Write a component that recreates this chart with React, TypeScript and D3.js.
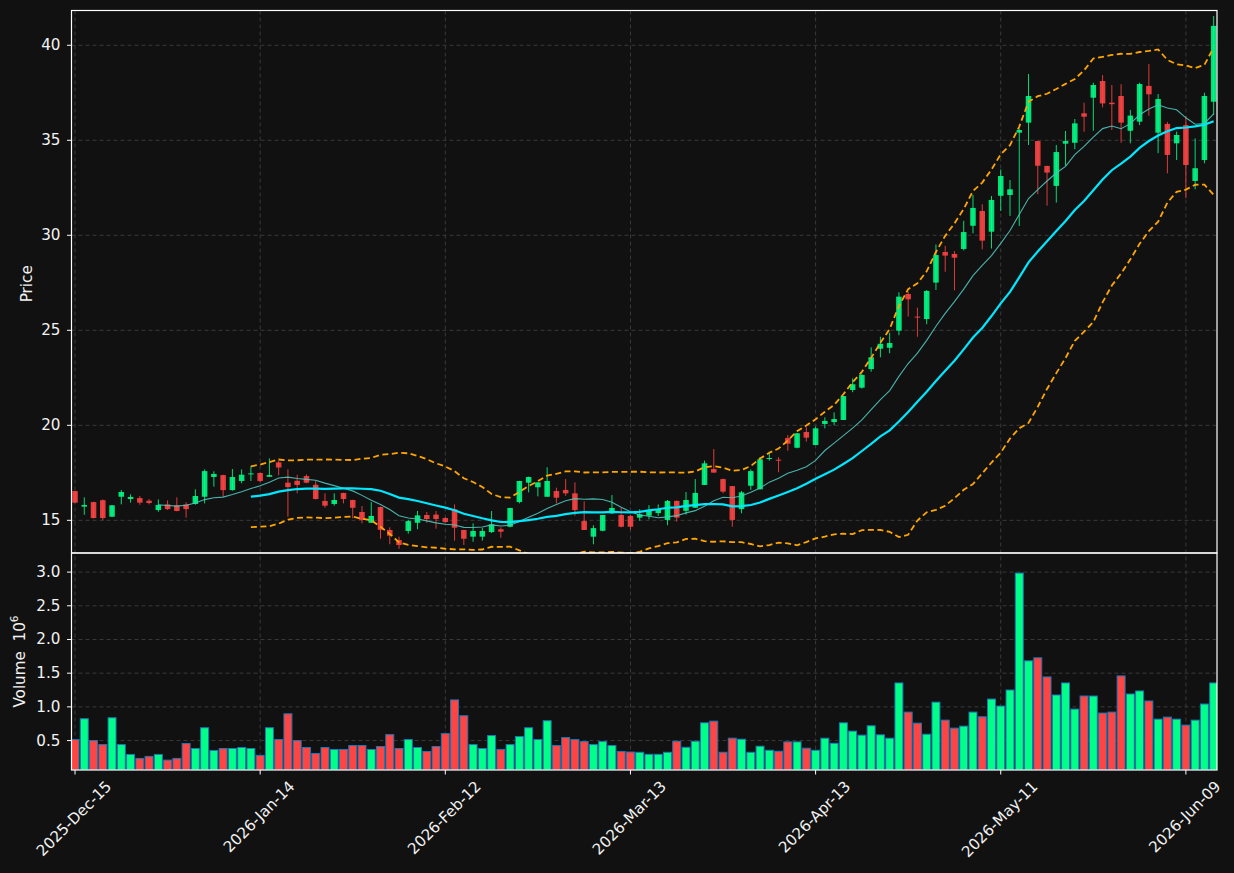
import React, { useEffect, useRef } from "react";
import * as d3 from "d3";

const W = 1234;
const H = 873;

// daily OHLC (one entry per trading day)
const opens = [
  16.54, 15.72, 15.96, 16.06, 15.19, 16.24, 16.12, 16.17, 16.03, 15.54,
  15.84, 15.79, 15.84, 15.86, 16.24, 17.28, 17.38, 16.59, 17.07, 17.43,
  17.49, 17.29, 18.05, 16.98, 17.08, 17.33, 16.87, 16.02, 15.86, 16.44,
  16.07, 15.44, 14.87, 15.7, 14.49, 13.96, 14.44, 14.87, 15.28, 15.3,
  15.12, 15.58, 14.49, 14.14, 14.14, 14.38, 14.53, 14.66, 15.96, 16.98,
  16.74, 16.24, 16.54, 16.6, 16.42, 14.96, 14.14, 14.45, 15.37, 15.28,
  15.23, 15.14, 15.24, 15.38, 15.02, 16.02, 15.5, 15.66, 16.86, 17.7,
  17.17, 16.8, 15.59, 16.82, 16.63, 18.25, 18.19, 19.33, 18.82, 19.65,
  18.96, 20.07, 20.17, 20.28, 21.86, 21.98, 22.96, 24.03, 24.08, 24.98,
  26.91, 25.72, 25.59, 27.51, 29.12, 29.02, 29.28, 30.5, 31.28, 30.19,
  32.08, 32.12, 35.4, 35.93, 34.96, 33.65, 32.6, 34.82, 34.87, 36.42,
  37.24, 38.12, 36.98, 37.33, 35.5, 35.98, 37.86, 35.4, 35.86, 34.84,
  35.8, 32.86, 33.96, 37.03,
];
const highs = [
  16.56, 16.21, 15.98, 16.1, 15.8, 16.6, 16.37, 16.28, 16.12, 16.1,
  16.05, 16.21, 15.95, 16.63, 17.68, 17.58, 17.4, 17.7, 17.68, 17.86,
  17.52, 18.26, 18.14, 17.68, 17.4, 17.42, 17.08, 16.42, 16.42, 16.45,
  16.08, 15.75, 15.96, 15.72, 14.63, 14.14, 15.02, 15.49, 15.44, 15.49,
  15.16, 15.84, 14.5, 14.84, 14.6, 15.49, 14.63, 15.66, 17.08, 17.3,
  17.0, 17.79, 16.72, 17.17, 17.0, 16.0, 14.74, 15.28, 16.33, 15.66,
  15.28, 15.58, 15.8, 15.84, 16.07, 16.05, 16.49, 17.17, 18.14, 18.75,
  17.2, 16.8, 16.54, 17.68, 18.32, 18.61, 18.32, 19.49, 19.6, 19.9,
  19.93, 20.42, 20.68, 21.54, 22.47, 22.7, 24.1, 24.66, 24.87, 27.0,
  27.03, 26.19, 27.12, 29.52, 29.45, 29.17, 30.76, 32.12, 31.63, 32.07,
  33.46, 32.91, 35.62, 38.49, 34.97, 33.66, 34.75, 35.49, 36.12, 36.98,
  38.03, 38.43, 37.91, 37.95, 36.6, 38.03, 39.01, 37.43, 35.97, 35.46,
  36.28, 35.1, 37.5, 41.54,
];
const lows = [
  15.9, 15.29, 15.1, 15.0, 15.18, 15.84, 15.93, 15.82, 15.84, 15.45,
  15.54, 15.47, 15.14, 15.82, 15.89, 16.77, 16.24, 16.56, 16.95, 17.07,
  17.02, 17.29, 17.37, 15.19, 16.42, 16.95, 16.1, 15.66, 15.77, 15.89,
  15.1, 14.84, 14.87, 14.03, 13.74, 13.5, 14.3, 14.53, 14.87, 14.56,
  14.87, 13.93, 13.7, 13.87, 13.93, 14.33, 14.08, 14.63, 15.89, 16.47,
  16.26, 16.24, 15.89, 16.29, 15.24, 14.49, 13.74, 14.42, 15.33, 14.63,
  14.5, 14.98, 15.05, 15.23, 14.74, 14.93, 15.3, 15.66, 16.86, 17.5,
  16.42, 14.66, 15.37, 16.6, 16.63, 18.14, 17.53, 18.66, 18.79, 19.14,
  18.96, 19.84, 20.0, 20.28, 21.74, 21.93, 22.82, 23.58, 23.79, 24.74,
  25.72, 24.66, 25.32, 27.12, 28.08, 27.1, 29.2, 30.1, 29.26, 29.3,
  31.28, 31.02, 30.49, 34.75, 32.16, 31.56, 31.72, 33.65, 34.53, 35.45,
  35.5, 36.73, 35.54, 34.87, 34.84, 35.8, 36.29, 34.32, 33.26, 33.96,
  31.95, 32.42, 33.79, 36.33,
];
const closes = [
  15.93, 15.81, 15.12, 15.12, 15.79, 16.49, 16.23, 15.93, 15.91, 15.81,
  15.59, 15.49, 15.59, 16.28, 17.59, 17.44, 16.59, 17.28, 17.4, 17.47,
  17.07, 17.38, 17.78, 16.75, 16.86, 16.98, 16.12, 15.77, 16.07, 16.12,
  15.66, 15.02, 15.23, 14.5, 14.19, 13.7, 14.96, 15.26, 15.07, 15.07,
  14.91, 14.61, 14.03, 14.44, 14.44, 14.79, 14.4, 15.65, 17.07, 17.28,
  17.0, 17.07, 16.19, 16.42, 15.54, 14.49, 14.59, 15.28, 15.65, 14.66,
  14.66, 15.32, 15.54, 15.59, 16.02, 15.14, 16.07, 16.44, 18.0, 17.51,
  16.51, 15.02, 16.47, 17.59, 18.21, 18.28, 18.15, 19.03, 19.58, 19.35,
  19.84, 20.23, 20.33, 21.54, 22.16, 22.65, 23.58, 24.29, 24.33, 26.77,
  26.63, 25.68, 27.07, 28.96, 28.93, 28.82, 30.17, 31.44, 29.72, 31.86,
  33.12, 32.42, 35.54, 37.33, 33.66, 33.3, 34.38, 34.96, 35.89, 36.24,
  37.91, 36.94, 36.9, 35.93, 36.3, 37.96, 37.42, 37.17, 34.23, 35.28,
  33.7, 33.53, 37.33, 41.02,
];
// volume in millions
const volumes = [
  0.515, 0.824, 0.5, 0.44, 0.838, 0.44, 0.294, 0.235, 0.265, 0.294,
  0.21, 0.235, 0.456, 0.382, 0.69, 0.353, 0.382, 0.382, 0.397, 0.382,
  0.28, 0.69, 0.515, 0.897, 0.5, 0.397, 0.309, 0.397, 0.368, 0.368,
  0.426, 0.426, 0.368, 0.412, 0.588, 0.382, 0.515, 0.397, 0.338, 0.412,
  0.603, 1.103, 0.868, 0.44, 0.382, 0.574, 0.368, 0.44, 0.559, 0.69,
  0.515, 0.794, 0.426, 0.544, 0.515, 0.485, 0.44, 0.485, 0.426, 0.338,
  0.33, 0.326, 0.296, 0.296, 0.326, 0.49, 0.4, 0.49, 0.763, 0.788,
  0.326, 0.535, 0.52, 0.326, 0.416, 0.356, 0.341, 0.48, 0.48, 0.386,
  0.356, 0.535, 0.46, 0.763, 0.64, 0.58, 0.719, 0.585, 0.535, 1.355,
  0.922, 0.758, 0.594, 1.07, 0.803, 0.684, 0.714, 0.922, 0.853, 1.116,
  1.012, 1.25, 2.985, 1.683, 1.728, 1.444, 1.176, 1.355, 0.967, 1.161,
  1.161, 0.908, 0.922, 1.459, 1.191, 1.236, 1.087, 0.818, 0.848, 0.818,
  0.729, 0.803, 1.042, 1.355,
];

const tickIdx = [0, 20, 40, 60, 80, 100, 120];
const tickLabels = [
  "2025-Dec-15", "2026-Jan-14", "2026-Feb-12", "2026-Mar-13",
  "2026-Apr-13", "2026-May-11", "2026-Jun-09",
];
const priceTicks = [15, 20, 25, 30, 35, 40];
const volumeTicks = [0.5, 1.0, 1.5, 2.0, 2.5, 3.0];

const BG = "#111111";
const UP = "#00ff88";
const DOWN = "#ff4444";
const GRID = "#3a3a3a";
const FONT = "DejaVu Sans, sans-serif";
const FS = 15.2;

// rolling helpers for the moving averages / bands
function rollingMean(arr: number[], n: number) {
  return arr.map((_, i) => (i < n - 1 ? null : d3.mean(arr.slice(i - n + 1, i + 1)) as number));
}
function rollingStd(arr: number[], n: number) {
  return arr.map((_, i) => (i < n - 1 ? null : d3.deviation(arr.slice(i - n + 1, i + 1)) as number));
}

const App = () => {
  const svgRef = useRef<SVGSVGElement | null>(null);

  useEffect(() => {
    const svg = d3.select(svgRef.current);
    svg.selectAll("*").remove();

    const left = 71.5, right = 1217;
    const pTop = 10.5, pBot = 553, vBot = 770;

    const x = d3.scaleLinear().domain([-0.38, 123.36]).range([left, right]);
    const y = d3.scaleLinear().domain([13.28, 41.83]).range([pBot, pTop]);
    const yv = d3.scaleLinear()
      .domain([0.3 * (d3.min(volumes) as number), 1.1 * (d3.max(volumes) as number)])
      .range([vBot, pBot]);

    const n = closes.length;
    const idx = d3.range(n);
    const step = x(1) - x(0);
    const isUp = (i: number) => closes[i] >= opens[i];

    svg.append("rect").attr("width", W).attr("height", H).attr("fill", BG);

    const defs = svg.append("defs");
    defs.append("clipPath").attr("id", "pclip")
      .append("rect").attr("x", left).attr("y", pTop).attr("width", right - left).attr("height", pBot - pTop);
    defs.append("clipPath").attr("id", "vclip")
      .append("rect").attr("x", left).attr("y", pBot).attr("width", right - left).attr("height", vBot - pBot);

    // grid
    const grid = svg.append("g")
      .attr("stroke", GRID).attr("stroke-width", 1).attr("stroke-dasharray", "4,3");
    tickIdx.forEach(t => {
      grid.append("line").attr("x1", x(t)).attr("x2", x(t)).attr("y1", pTop).attr("y2", vBot);
    });
    priceTicks.forEach(t => {
      grid.append("line").attr("x1", left).attr("x2", right).attr("y1", y(t)).attr("y2", y(t));
    });
    volumeTicks.forEach(t => {
      grid.append("line").attr("x1", left).attr("x2", right).attr("y1", yv(t)).attr("y2", yv(t));
    });

    // candles
    const pg = svg.append("g").attr("clip-path", "url(#pclip)");
    const bodyW = step * 0.6;
    pg.selectAll(".wick").data(idx).enter().append("line")
      .attr("x1", i => x(i)).attr("x2", i => x(i))
      .attr("y1", i => y(highs[i])).attr("y2", i => y(lows[i]))
      .attr("stroke", i => (isUp(i) ? UP : DOWN))
      .attr("stroke-width", 1)
      .attr("opacity", 0.85);
    pg.selectAll(".body").data(idx).enter().append("rect")
      .attr("x", i => x(i) - bodyW / 2)
      .attr("width", bodyW)
      .attr("y", i => y(Math.max(opens[i], closes[i])))
      .attr("height", i => Math.max(1, Math.abs(y(opens[i]) - y(closes[i]))))
      .attr("fill", i => (isUp(i) ? UP : DOWN))
      .attr("opacity", 0.88);

    // moving averages and 20-day bands
    const ma10 = rollingMean(closes, 10);
    const ma20 = rollingMean(closes, 20);
    const sd20 = rollingStd(closes, 20);
    const upper = ma20.map((m, i) => (m == null ? null : m + 2 * (sd20[i] as number)));
    const lower = ma20.map((m, i) => (m == null ? null : m - 2 * (sd20[i] as number)));

    const line = d3.line<number | null>()
      .defined(d => d != null)
      .x((_, i) => x(i))
      .y(d => y(d as number));

    pg.append("path").attr("d", line(upper)).attr("fill", "none")
      .attr("stroke", "#ffa500").attr("stroke-width", 1.8).attr("stroke-dasharray", "6,3.5");
    pg.append("path").attr("d", line(lower)).attr("fill", "none")
      .attr("stroke", "#ffa500").attr("stroke-width", 1.8).attr("stroke-dasharray", "6,3.5");
    pg.append("path").attr("d", line(ma10)).attr("fill", "none")
      .attr("stroke", "#4fc4bc").attr("stroke-width", 1.1).attr("opacity", 0.9);
    pg.append("path").attr("d", line(ma20)).attr("fill", "none")
      .attr("stroke", "#00e8ff").attr("stroke-width", 2.2);

    // volume bars
    const vg = svg.append("g").attr("clip-path", "url(#vclip)");
    const barW = step * 0.86;
    vg.selectAll(".vol").data(idx).enter().append("rect")
      .attr("x", i => x(i) - barW / 2)
      .attr("width", barW)
      .attr("y", i => yv(volumes[i]))
      .attr("height", i => vBot - yv(volumes[i]))
      .attr("fill", i => (isUp(i) ? UP : DOWN))
      .attr("stroke", "#1f77b4")
      .attr("stroke-width", 1);

    // frames
    svg.append("rect").attr("x", left).attr("y", pTop).attr("width", right - left).attr("height", pBot - pTop)
      .attr("fill", "none").attr("stroke", "#ffffff").attr("stroke-width", 1.2);
    svg.append("rect").attr("x", left).attr("y", pBot).attr("width", right - left).attr("height", vBot - pBot)
      .attr("fill", "none").attr("stroke", "#ffffff").attr("stroke-width", 1.2);

    // y ticks
    const ticks = svg.append("g").attr("font-family", FONT).attr("font-size", FS).attr("fill", "#f2f2f2");
    const yTick = (yy: number, label: string) => {
      ticks.append("line").attr("x1", left - 4.5).attr("x2", left).attr("y1", yy).attr("y2", yy)
        .attr("stroke", "#ffffff").attr("stroke-width", 1);
      ticks.append("text").attr("x", left - 11).attr("y", yy).attr("text-anchor", "end")
        .attr("dominant-baseline", "central").text(label);
    };
    priceTicks.forEach(t => yTick(y(t), String(t)));
    volumeTicks.forEach(t => yTick(yv(t), t.toFixed(1)));

    // x ticks, rotated 45 degrees and centered under the tick like matplotlib
    tickIdx.forEach((t, k) => {
      const xx = x(t);
      ticks.append("line").attr("x1", xx).attr("x2", xx).attr("y1", vBot).attr("y2", vBot + 4.5)
        .attr("stroke", "#ffffff").attr("stroke-width", 1);
      const txt = ticks.append("text").attr("text-anchor", "middle")
        .attr("dominant-baseline", "central").text(tickLabels[k]);
      const len = (txt.node() as SVGTextElement).getComputedTextLength();
      const half = ((len + FS * 1.1) * Math.SQRT1_2) / 2;
      txt.attr("transform", `translate(${xx - 1},${vBot + 8 + half}) rotate(-45)`);
    });

    // axis labels
    ticks.append("text")
      .attr("transform", `translate(27,${(pTop + pBot) / 2 + 2}) rotate(-90)`)
      .attr("text-anchor", "middle").attr("dominant-baseline", "central")
      .text("Price");
    const vl = ticks.append("text")
      .attr("transform", `translate(20,${(pBot + vBot) / 2}) rotate(-90)`)
      .attr("text-anchor", "middle").attr("dominant-baseline", "central");
    vl.append("tspan").text("Volume\u00a0\u00a010");
    vl.append("tspan").attr("font-size", FS * 0.7).attr("dy", -6).text("6");
  }, []);

  return (
    <div style={{ position: "absolute", left: 0, top: 0, width: W, height: H, background: BG }}>
      <svg ref={svgRef} width={W} height={H} style={{ display: "block" }} />
    </div>
  );
};

export default App;
